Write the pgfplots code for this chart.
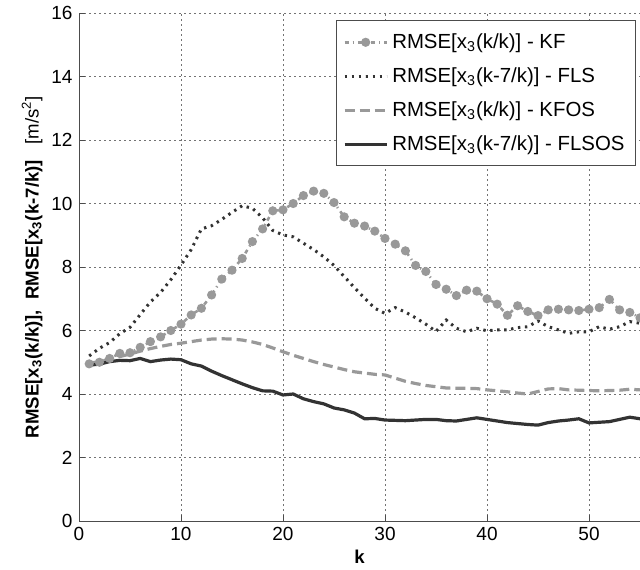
\documentclass[border=0pt]{standalone}
\usepackage{pgfplots}
\pgfplotsset{compat=1.18}
\usepackage{fontspec}
\setmainfont{Liberation Sans}
\definecolor{lg}{HTML}{999999}
\definecolor{dg}{HTML}{333333}
\pgfplotstableread{
k kf fls kfos flsos
1 4.95 5.20 4.97 4.91
2 5.00 5.44 5.02 4.94
3 5.12 5.62 5.10 5.02
4 5.28 5.90 5.18 5.06
5 5.30 6.10 5.26 5.05
6 5.47 6.50 5.35 5.12
7 5.65 6.90 5.43 5.02
8 5.80 7.20 5.50 5.07
9 6.00 7.60 5.56 5.10
10 6.20 8.06 5.60 5.08
11 6.49 8.55 5.65 4.95
12 6.70 9.20 5.70 4.88
13 7.12 9.30 5.73 4.72
14 7.62 9.50 5.74 4.58
15 7.90 9.72 5.73 4.45
16 8.27 9.93 5.70 4.32
17 8.80 9.85 5.64 4.20
18 9.20 9.55 5.56 4.10
19 9.77 9.15 5.45 4.09
20 9.80 9.01 5.33 3.97
21 10.00 8.95 5.22 4.00
22 10.25 8.75 5.12 3.85
23 10.39 8.55 5.02 3.76
24 10.32 8.32 4.93 3.69
25 10.03 8.05 4.85 3.56
26 9.58 7.70 4.77 3.50
27 9.38 7.35 4.70 3.40
28 9.29 7.02 4.66 3.22
29 9.13 6.70 4.62 3.23
30 8.90 6.54 4.60 3.18
31 8.72 6.72 4.50 3.17
32 8.51 6.58 4.40 3.16
33 8.05 6.40 4.33 3.18
34 7.86 6.20 4.27 3.20
35 7.45 5.97 4.23 3.20
36 7.30 6.33 4.19 3.16
37 7.10 6.07 4.18 3.15
38 7.27 5.96 4.18 3.20
39 7.24 6.07 4.17 3.25
40 7.00 5.99 4.13 3.20
41 6.83 6.02 4.10 3.15
42 6.48 6.02 4.07 3.10
43 6.78 6.09 4.03 3.07
44 6.60 6.12 4.00 3.04
45 6.47 6.30 4.08 3.02
46 6.65 6.12 4.16 3.10
47 6.67 6.02 4.17 3.15
48 6.65 5.91 4.13 3.18
49 6.63 5.96 4.12 3.22
50 6.67 5.96 4.11 3.09
51 6.72 6.12 4.10 3.11
52 6.98 6.04 4.11 3.13
53 6.65 6.12 4.12 3.20
54 6.57 6.28 4.15 3.27
55 6.40 6.23 4.13 3.22
}\datatable
\begin{document}
\fontsize{9.3pt}{11pt}\selectfont
\begin{tikzpicture}
\begin{axis}[
  scale only axis,
  width=280.5pt, height=254pt,
  xmin=0, xmax=55, ymin=0, ymax=16,
  xtick={0,10,...,50}, ytick={0,2,...,16},
  axis x line*=bottom, axis y line*=left,
  axis line style={black!70, line width=0.5pt},
  tick align=inside, tick style={black!70, line width=0.4pt},
  major tick length=3pt,
  grid=major,
  grid style={black!55, line width=0.45pt, dash pattern=on 1pt off 1.5pt},
  ticklabel style={font=\fontsize{9.5pt}{11pt}\selectfont},
  /pgf/number format/assume math mode=true,
  xlabel={\textbf{k}},
  ylabel={\textbf{RMSE[x\textsubscript{3}(k/k)],\ \ RMSE[x\textsubscript{3}(k-7/k)]}\ \ \ [m/s\textsuperscript{2}]},
  xlabel style={yshift=2pt},
  ylabel style={yshift=-2pt},
  legend style={at={(1,1)}, anchor=north east, xshift=-2pt, yshift=-3.5pt,
    draw=black!70, line width=0.5pt, font=\fontsize{10.2pt}{12pt}\selectfont,
    row sep=4.2pt, inner xsep=3.5pt, inner ysep=4.5pt},
  legend cell align=left,
  legend image code/.code={\draw[#1, mark repeat=2, mark phase=2] plot coordinates {(0pt,0pt) (10.5pt,0pt) (21pt,0pt)};},
  clip=true,
]
\addplot[lg, line width=1.3pt, dash pattern=on 2pt off 2pt on 0.6pt off 2pt, mark=*, mark size=1.6pt, mark options={solid, fill=lg, draw=lg}] table[x=k, y=kf] {\datatable};
\addlegendentry{RMSE[x\textsubscript{3}(k/k)] - KF}
\addplot[dg, line width=1.5pt, dash pattern=on 1.2pt off 2.3pt] table[x=k, y=fls] {\datatable};
\addlegendentry{RMSE[x\textsubscript{3}(k-7/k)] - FLS}
\addplot[lg, line width=1.6pt, dash pattern=on 5pt off 2.5pt] table[x=k, y=kfos] {\datatable};
\addlegendentry{RMSE[x\textsubscript{3}(k/k)] - KFOS}
\addplot[dg, line width=1.6pt] table[x=k, y=flsos] {\datatable};
\addlegendentry{RMSE[x\textsubscript{3}(k-7/k)] - FLSOS}
\coordinate (SW) at (rel axis cs:0,0);
\coordinate (NE) at (rel axis cs:1,1);
\end{axis}
\pgfresetboundingbox
\path ([xshift=-39.5pt,yshift=-24pt]SW) rectangle ([yshift=6.5pt]NE);
\end{tikzpicture}
\end{document}
